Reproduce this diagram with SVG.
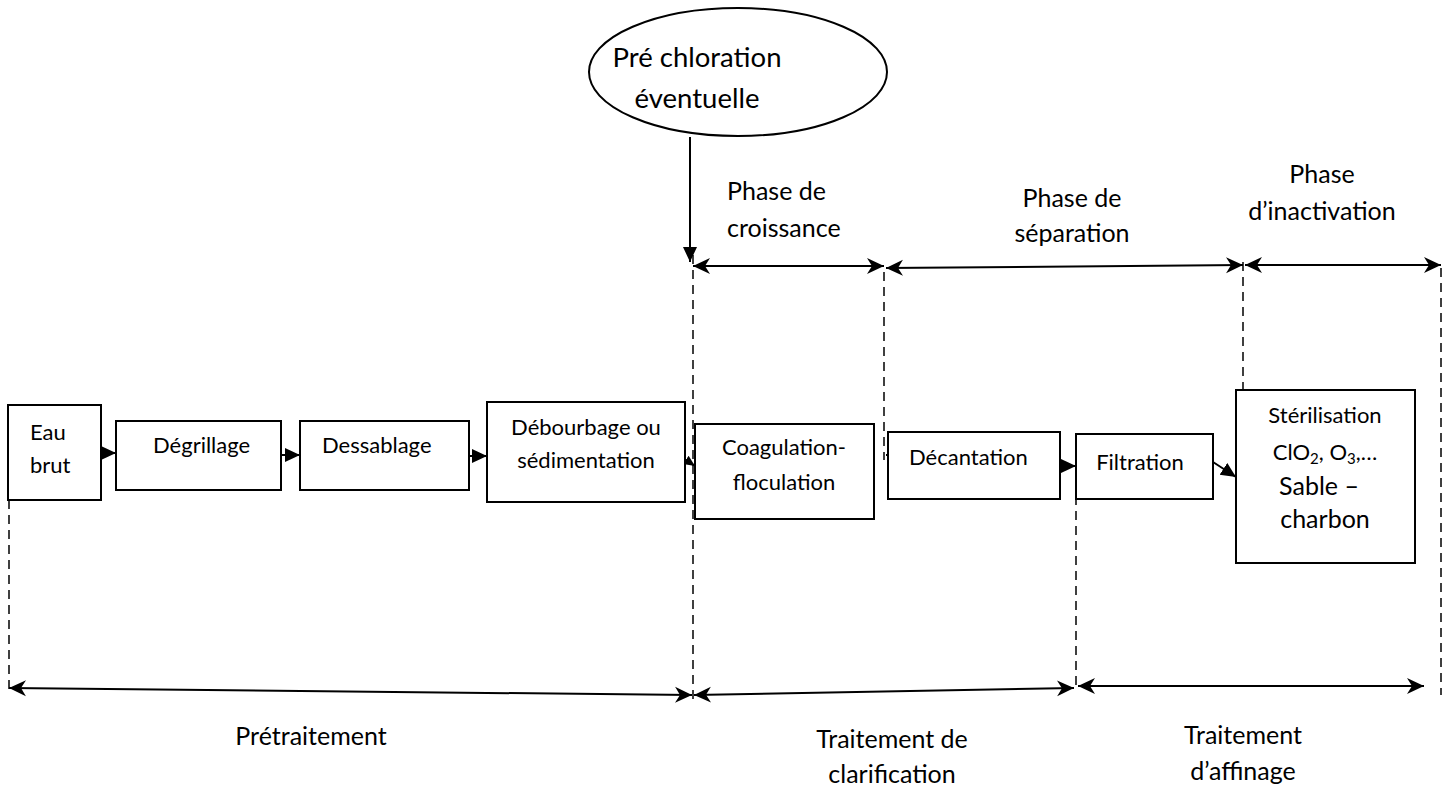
<svg xmlns="http://www.w3.org/2000/svg" width="1443" height="789" viewBox="0 0 1443 789">
<defs>
<style>
.box{fill:#fff;stroke:#000;stroke-width:2}
.t{font-family:Lato,"Liberation Sans",sans-serif;fill:#000}
.s22{font-size:22px}
.s25{font-size:25px}
.s27{font-size:27.5px}
.m{text-anchor:middle}
.ln{stroke:#000;stroke-width:2;fill:none}
.dash{stroke:#000;stroke-width:1.5;stroke-dasharray:9,6;fill:none}
</style>
<marker id="tri" markerUnits="userSpaceOnUse" markerWidth="16" markerHeight="16" viewBox="0 0 16 16" refX="15" refY="8" orient="auto"><path d="M0,1 L15,8 L0,15 z" fill="#000"/></marker>
<marker id="tris" markerUnits="userSpaceOnUse" markerWidth="12" markerHeight="12" viewBox="0 0 12 12" refX="11" refY="6" orient="auto"><path d="M0,1 L11,6 L0,11 z" fill="#000"/></marker>
<marker id="stl" markerUnits="userSpaceOnUse" markerWidth="18" markerHeight="18" viewBox="0 0 18 18" refX="17" refY="9" orient="auto-start-reverse"><path d="M0,1 L17,9 L0,17 L5,9 z" fill="#000"/></marker>
<marker id="open" markerUnits="userSpaceOnUse" markerWidth="16" markerHeight="16" viewBox="0 0 16 16" refX="14" refY="8" orient="auto"><path d="M1,1 L14,8 L1,15" fill="none" stroke="#000" stroke-width="1.6"/></marker>
</defs>
<rect width="1443" height="789" fill="#fff"/>

<g id="connectors">
<line class="dash" x1="9" y1="500" x2="9" y2="692"/>
<line class="dash" x1="693" y1="255" x2="693" y2="700"/>
<line class="dash" x1="884" y1="272" x2="884" y2="460"/>
<line class="dash" x1="1076" y1="466" x2="1076" y2="690"/>
<line class="dash" x1="1243" y1="262" x2="1243" y2="445"/>
<line class="dash" x1="1441" y1="268" x2="1441" y2="695"/>

<line class="ln" x1="690" y1="137" x2="690" y2="262" marker-end="url(#tri)"/>

<line class="ln" x1="101" y1="453" x2="116" y2="453" marker-end="url(#tri)"/>
<line class="ln" x1="281" y1="455" x2="300" y2="455" marker-end="url(#tri)"/>
<line class="ln" x1="469" y1="456" x2="487" y2="456" marker-end="url(#tri)"/>
<line class="ln" x1="683" y1="458" x2="695" y2="466" marker-end="url(#tris)"/>
<line class="ln" x1="886" y1="455" x2="906" y2="455" marker-end="url(#open)"/>
<line class="ln" x1="1060" y1="466" x2="1076" y2="466" marker-end="url(#tri)"/>
<line class="ln" x1="1213" y1="462" x2="1236" y2="477" marker-end="url(#tri)"/>

<line class="ln" x1="693" y1="266" x2="884" y2="266" marker-start="url(#stl)" marker-end="url(#stl)"/>
<line class="ln" x1="886" y1="268" x2="1243" y2="265" marker-start="url(#stl)" marker-end="url(#stl)"/>
<line class="ln" x1="1245" y1="265" x2="1441" y2="265" marker-start="url(#stl)" marker-end="url(#stl)"/>
<line class="ln" x1="9" y1="688" x2="692" y2="695" marker-start="url(#stl)" marker-end="url(#stl)"/>
<line class="ln" x1="694" y1="695" x2="1074" y2="688" marker-start="url(#stl)" marker-end="url(#stl)"/>
<line class="ln" x1="1078" y1="686" x2="1424" y2="686" marker-start="url(#stl)" marker-end="url(#stl)"/>
</g>

<g id="n-prechloration">
<ellipse class="box" cx="738" cy="72" rx="149" ry="64"/>
<text class="t s27 m" x="697" y="67">Pré chloration</text>
<text class="t s27 m" x="697" y="108">éventuelle</text>
</g>

<g id="n-eau">
<rect class="box" x="8" y="405" width="93" height="95"/>
<text class="t s22" x="30" y="440">Eau</text>
<text class="t s22" x="30" y="473">brut</text>
</g>

<g id="n-degrillage">
<rect class="box" x="116" y="421" width="165" height="69"/>
<text class="t s22" x="153" y="453">Dégrillage</text>
</g>

<g id="n-dessablage">
<rect class="box" x="300" y="421" width="169" height="69"/>
<text class="t s22" x="322" y="453">Dessablage</text>
</g>

<g id="n-debourbage">
<rect class="box" x="487" y="402" width="198" height="100"/>
<text class="t s22 m" x="586" y="435">Débourbage ou</text>
<text class="t s22 m" x="586" y="468">sédimentation</text>
</g>

<g id="n-coagulation">
<rect class="box" x="695" y="424" width="179" height="95"/>
<text class="t s22 m" x="784" y="455">Coagulation-</text>
<text class="t s22 m" x="784" y="490">floculation</text>
</g>

<g id="n-decantation">
<rect class="box" x="888" y="432" width="172" height="67"/>
<text class="t s22" x="909" y="465">Décantation</text>
</g>

<g id="n-filtration">
<rect class="box" x="1076" y="434" width="137" height="65"/>
<text class="t s22 m" x="1140" y="470">Filtration</text>
</g>

<g id="n-sterilisation">
<rect class="box" x="1236" y="390" width="179" height="173"/>
<text class="t s22 m" x="1325" y="423">Stérilisation</text>
<text class="t s22 m" x="1325" y="460">ClO<tspan font-size="15" dy="4">2</tspan><tspan dy="-4">, O</tspan><tspan font-size="15" dy="4">3</tspan><tspan dy="-4">,…</tspan></text>
<text class="t s25 m" x="1319" y="495">Sable –</text>
<text class="t s25 m" x="1325" y="528">charbon</text>
</g>

<g id="labels">
<text class="t s25" x="727" y="200">Phase de</text>
<text class="t s25" x="727" y="237">croissance</text>
<text class="t s25 m" x="1072" y="207">Phase de</text>
<text class="t s25 m" x="1072" y="242">séparation</text>
<text class="t s25 m" x="1322" y="183">Phase</text>
<text class="t s25 m" x="1322" y="220">d’inactivation</text>
<text class="t s25 m" x="311" y="745">Prétraitement</text>
<text class="t s25 m" x="892" y="748">Traitement de</text>
<text class="t s25 m" x="892" y="783">clarification</text>
<text class="t s25 m" x="1243" y="744">Traitement</text>
<text class="t s25 m" x="1243" y="780">d’affinage</text>
</g>
</svg>
